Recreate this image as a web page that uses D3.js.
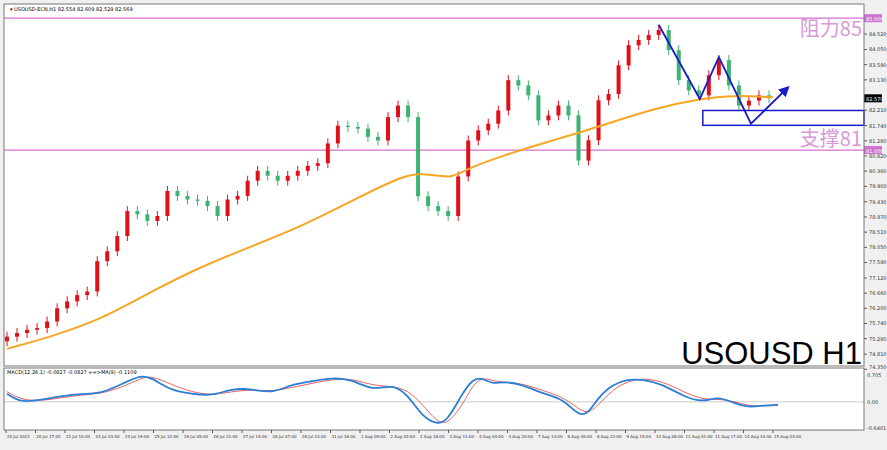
<!DOCTYPE html>
<html><head><meta charset="utf-8">
<script src="https://cdn.jsdelivr.net/npm/d3@7"></script>
<style>body{margin:0;background:#f0f0f0;font-family:"DejaVu Sans",sans-serif}</style>
</head><body><svg id="c" width="887" height="450"></svg>
<script>
const closes=[75.34,75.45,75.55,75.60,75.80,76.2,76.41,76.6,76.71,77.63,77.93,78.39,79.15,79.05,78.85,79.0,79.76,79.61,79.5,79.46,79.3,79.0,79.5,79.61,80.07,80.37,80.22,80.07,80.22,80.37,80.52,80.6,81.2,81.74,81.7,81.65,81.4,81.29,82.0,82.35,82.0,79.6,79.3,79.15,79.0,80.2,81.29,81.6,81.8,82.2,83.12,82.96,82.66,81.9,82.05,82.35,82.05,80.68,81.3,82.51,82.7,83.57,84.18,84.34,84.49,84.64,84.03,83.12,82.81,82.66,83.27,83.73,82.96,82.35,82.5,82.66,82.57];
const firstOpen=75.2;
const maPos=[0,4.4,9.4,14.4,19.4,24.4,29.4,34.4,39.4,41.4,44.4,45.4,49.4,54.4,59.4,64.4,69.4,72.4,76.4];
const maVals=[74.97,75.34,75.86,76.71,77.47,78.08,78.69,79.46,80.22,80.31,80.13,80.37,80.83,81.29,81.74,82.26,82.57,82.66,82.60];
const macdPos=[0,1.4,3.4,5.4,7.4,9.4,11.4,13.4,14.4,16.4,18.4,20.4,22.4,24.4,26.4,28.4,30.4,32.4,34.4,36.4,38.4,39.9,41.4,42.9,43.9,45.4,46.4,47.4,48.4,49.4,51.4,53.4,55.4,56.9,57.9,58.9,60.4,61.9,63.4,65.4,67.4,69.4,70.9,72.4,73.9,75.4,76.9];
const macdVals=[0.2,-0.02,0.05,0.14,0.2,0.2,0.43,0.66,0.59,0.27,0.2,0.14,0.32,0.32,0.2,0.43,0.5,0.59,0.55,0.27,0.43,0.2,-0.36,-0.55,-0.48,0.2,0.55,0.59,0.43,0.5,0.43,0.2,0.09,-0.32,-0.32,0.09,0.43,0.55,0.55,0.43,0.14,-0.02,0.14,-0.02,-0.14,-0.09,-0.07];
const sigVals=[0.25,0.05,0.02,0.1,0.17,0.2,0.35,0.58,0.64,0.42,0.24,0.16,0.25,0.3,0.25,0.35,0.45,0.55,0.57,0.4,0.38,0.3,-0.05,-0.5,-0.55,-0.1,0.4,0.6,0.52,0.48,0.45,0.28,0.12,-0.15,-0.3,-0.1,0.3,0.5,0.58,0.5,0.25,0.05,0.07,0.02,-0.1,-0.1,-0.09];
const priceTicks=[84.52,84.05,83.59,83.13,82.21,81.74,81.28,80.82,80.36,79.90,79.43,78.97,78.51,78.05,77.59,77.12,76.66,76.20,75.74,75.28,74.81,74.35];
const timeLabels=["20 Jul 2023","20 Jul 17:00","21 Jul 10:00","24 Jul 03:00","24 Jul 19:00","25 Jul 12:00","26 Jul 05:00","26 Jul 21:00","27 Jul 14:00","28 Jul 07:00","28 Jul 23:00","31 Jul 16:00","1 Aug 09:00","2 Aug 02:00","2 Aug 18:00","3 Aug 11:00","4 Aug 04:00","4 Aug 20:00","7 Aug 13:00","8 Aug 06:00","8 Aug 22:00","9 Aug 15:00","10 Aug 08:00","11 Aug 01:00","11 Aug 17:00","14 Aug 10:00","15 Aug 03:00"];
const zig=[[65,84.8],[69.1,82.55],[71,83.82],[74.2,81.8],[77.9,82.9]];
const levels=[85,81];

const svg=d3.select("#c");
const L=4,R=864,T=4,B=366,MT=368,MB=430;
svg.append("rect").attr("x",L).attr("y",T).attr("width",R-L).attr("height",MB-T).attr("fill","#fff");
const x=d3.scaleLinear().domain([0,76.4]).range([7,773]);
const y=d3.scaleLinear().domain([74.45,85.43]).range([B,T]);
const ym=d3.scaleLinear().domain([-0.6401,0.705]).range([428,373]);
const g=svg.append("g");
levels.forEach(v=>{
 g.append("line").attr("x1",L).attr("x2",R).attr("y1",y(v)).attr("y2",y(v)).attr("stroke","#d070d0").attr("stroke-width",1.2);
 g.append("rect").attr("x",R).attr("y",y(v)-4).attr("width",18).attr("height",8).attr("fill","#d070d0");
 g.append("text").attr("x",R+2).attr("y",y(v)+2.5).attr("font-size",5).attr("fill","#fff").text(v.toFixed(3));
});
closes.forEach((c,i)=>{
 const o=i?closes[i-1]:firstOpen;
 const up=c>=o, col=up?"#e0101a":"#3cb371";
 const hi=Math.max(o,c)+0.15, lo=Math.min(o,c)-0.15;
 g.append("line").attr("x1",x(i)).attr("x2",x(i)).attr("y1",y(hi)).attr("y2",y(lo)).attr("stroke",col);
 g.append("rect").attr("x",x(i)-2).attr("width",4).attr("y",y(Math.max(o,c))).attr("height",Math.max(1,Math.abs(y(o)-y(c)))).attr("fill",col);
});
g.append("path").datum(maPos.map((p,i)=>[p,maVals[i]])).attr("fill","none").attr("stroke","#f5a623").attr("stroke-width",2)
 .attr("d",d3.line().x(d=>x(d[0])).y(d=>y(d[1])).curve(d3.curveBasis));
svg.append("defs").append("marker").attr("id","ar").attr("viewBox","0 0 10 10").attr("refX",8).attr("refY",5).attr("markerWidth",6).attr("markerHeight",6).attr("orient","auto")
 .append("path").attr("d","M0,0L10,5L0,10z").attr("fill","#1a1ac8");
g.append("path").datum(zig).attr("fill","none").attr("stroke","#1a1ac8").attr("stroke-width",1.8).attr("marker-end","url(#ar)")
 .attr("d",d3.line().x(d=>x(d[0])).y(d=>y(d[1])));
g.append("rect").attr("x",x(69.4)).attr("y",y(82.2)).attr("width",R-x(69.4)).attr("height",y(81.75)-y(82.2)).attr("fill","none").attr("stroke","#1a1ac8").attr("stroke-width",1.5);
g.append("text").attr("x",862).attr("y",36).attr("text-anchor","end").attr("font-size",20).attr("fill","#d79ad7").attr("font-family","Noto Sans CJK SC").text("阻力85");
g.append("text").attr("x",862).attr("y",146).attr("text-anchor","end").attr("font-size",20).attr("fill","#d79ad7").attr("font-family","Noto Sans CJK SC").text("支撑81");
g.append("text").attr("x",862).attr("y",364).attr("text-anchor","end").attr("font-size",31).attr("fill","#000").attr("font-family","Liberation Sans").text("USOUSD H1");
g.append("text").attr("x",10).attr("y",11).attr("font-size",5).text("▾ USOUSD-ECN,H1  82.554 82.609 82.529 82.569");
g.append("text").attr("x",7).attr("y",374).attr("font-size",5).text("MACD(12,26,1) -0.0827 -0.0827  ==>MA(9) -0.1109");
const last=closes[closes.length-1];
g.append("rect").attr("x",R).attr("y",y(last)-4).attr("width",18).attr("height",8).attr("fill","#000");
g.append("text").attr("x",R+2).attr("y",y(last)+2.5).attr("font-size",5).attr("fill","#fff").text(last.toFixed(3));
priceTicks.forEach(v=>{
 g.append("line").attr("x1",R).attr("x2",R+3).attr("y1",y(v)).attr("y2",y(v)).attr("stroke","#555");
 g.append("text").attr("x",R+5).attr("y",y(v)+(v<74.5?0:2)).attr("font-size",5).attr("fill","#333").text(v.toFixed(3));
});
[[0.705,"0.705",4],[0,"0.00",2],[-0.6401,"-0.6401",2]].forEach(([v,t,d])=>{
 g.append("text").attr("x",R+3).attr("y",ym(v)+d).attr("font-size",5).attr("fill","#333").text(t);
});
g.append("line").attr("x1",L).attr("x2",R).attr("y1",ym(0)).attr("y2",ym(0)).attr("stroke","#ccc");
const mline=d3.line().x(d=>x(d[0])).y(d=>ym(d[1])).curve(d3.curveBasis);
g.append("path").datum(macdPos.map((p,i)=>[p,sigVals[i]])).attr("fill","none").attr("stroke","#e85050").attr("stroke-width",0.9).attr("d",mline);
g.append("path").datum(macdPos.map((p,i)=>[p,macdVals[i]])).attr("fill","none").attr("stroke","#2a7fd4").attr("stroke-width",1.8).attr("d",mline);
g.append("rect").attr("x",L).attr("y",T).attr("width",R-L).attr("height",B-T).attr("fill","none").attr("stroke","#777");
g.append("rect").attr("x",L).attr("y",MT).attr("width",R-L).attr("height",MB-MT).attr("fill","none").attr("stroke","#777");
const xt=d3.scalePoint().domain(timeLabels).range([6,773]);
timeLabels.forEach(t=>{
 g.append("line").attr("x1",xt(t)).attr("x2",xt(t)).attr("y1",MB).attr("y2",MB+3).attr("stroke","#555");
 g.append("text").attr("x",xt(t)+1).attr("y",MB+8).attr("font-size",4).attr("fill","#333").text(t);
});
</script></body></html>
